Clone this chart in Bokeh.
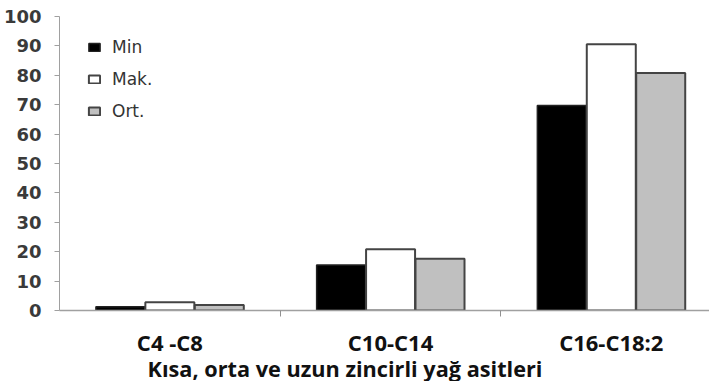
from bokeh.plotting import figure
from bokeh.models import Range1d, FixedTicker, Legend, LegendItem, Title, ColumnDataSource
from bokeh.transform import dodge
from bokeh.embed import file_html
from bokeh.resources import INLINE

categories = ["C4 -C8", "C10-C14", "C16-C18:2"]
cat_pos = [0.5, 1.5, 2.5]
min_vals = [1.3, 15.5, 69.7]
mak_vals = [2.8, 20.8, 90.6]
ort_vals = [1.9, 17.6, 80.8]
series_names = ["Min", "Mak.", "Ort."]
y_ticks = [0, 10, 20, 30, 40, 50, 60, 70, 80, 90, 100]
x_title = "Kısa, orta ve uzun zincirli yağ asitleri"

src = ColumnDataSource(dict(x=cat_pos, mn=min_vals, mk=mak_vals, ort=ort_vals))

p = figure(frame_width=650, frame_height=294, output_backend="svg", toolbar_location=None,
           x_range=Range1d(0, 2.945), y_range=Range1d(0, 100),
           min_border_left=58, min_border_right=0, min_border_top=16, min_border_bottom=71)
p.outline_line_color = None
p.xgrid.visible = False
p.ygrid.visible = False
p.background_fill_color = "white"

bw = 0.222
r1 = p.vbar(x=dodge("x", -0.224, range=p.x_range), top="mn", width=bw, source=src,
            fill_color="black", line_color="#222222", line_width=1.5)
r2 = p.vbar(x=dodge("x", 0.0, range=p.x_range), top="mk", width=bw, source=src,
            fill_color="white", line_color="#444444", line_width=2)
r3 = p.vbar(x=dodge("x", 0.224, range=p.x_range), top="ort", width=bw, source=src,
            fill_color="#c0c0c0", line_color="#444444", line_width=2)

# y axis
ya = p.yaxis[0]
ya.ticker = FixedTicker(ticks=y_ticks)
ya.major_tick_in = 0
ya.major_tick_out = 5
ya.minor_tick_line_color = None
ya.axis_line_color = "#a0a0a0"
ya.major_tick_line_color = "#a0a0a0"
ya.major_label_text_font = "DejaVu Sans"
ya.major_label_text_font_style = "bold"
ya.major_label_text_font_size = "18px"
ya.major_label_text_color = "#3a3a3a"
ya.major_label_standoff = 13

# x axis
xa = p.xaxis[0]
xa.ticker = FixedTicker(ticks=cat_pos, minor_ticks=[1, 2])
xa.major_label_overrides = {cp: c for cp, c in zip(cat_pos, categories)}
xa.major_tick_line_color = None
xa.major_tick_in = 0
xa.major_tick_out = 0
xa.minor_tick_in = 0
xa.minor_tick_out = 6
xa.minor_tick_line_color = "#909090"
xa.axis_line_color = "#a0a0a0"
xa.axis_line_width = 1.5
xa.major_label_text_font = "Open Sans"
xa.major_label_text_font_style = "bold"
xa.major_label_text_font_size = "22px"
xa.major_label_text_color = "#111111"
xa.major_label_standoff = 10

title = Title(text=x_title, align="left", offset=88, text_font="Open Sans",
              text_font_style="bold", text_font_size="21.7px", text_color="#111111",
              standoff=-15, text_line_height=1.0)
p.add_layout(title, "below")

legend = Legend(items=[LegendItem(label=series_names[0], renderers=[r1]),
                       LegendItem(label=series_names[1], renderers=[r2]),
                       LegendItem(label=series_names[2], renderers=[r3])],
                location=(28, 187), border_line_color=None, background_fill_alpha=0,
                label_text_font="DejaVu Sans", label_text_font_size="17px",
                label_text_color="#333333",
                glyph_width=14, glyph_height=10, label_height=24,
                margin=0, padding=0, spacing=8, label_standoff=11)
p.add_layout(legend)

open("out.html", "w").write(file_html(p, INLINE))
